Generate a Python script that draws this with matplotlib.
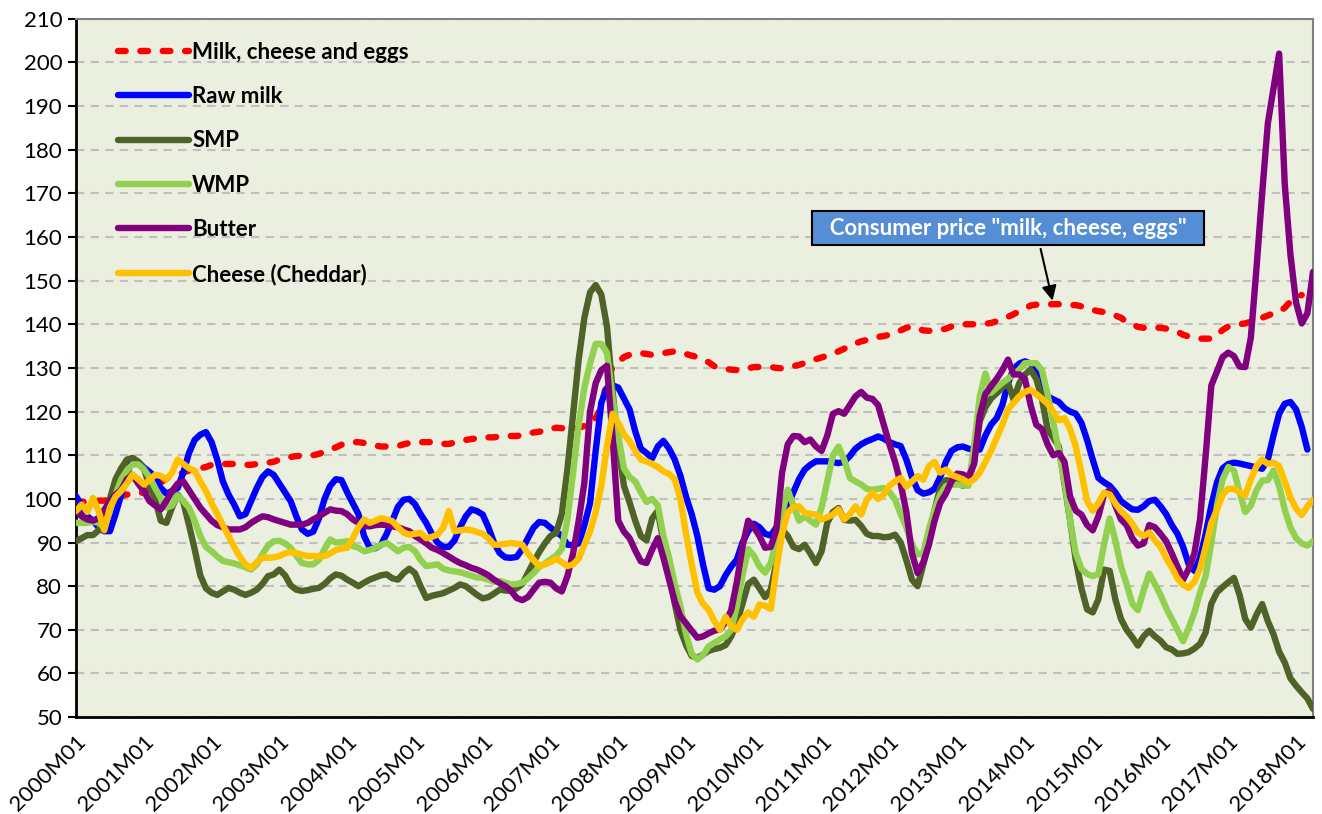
import numpy as np
import matplotlib
matplotlib.use("Agg")
import matplotlib.pyplot as plt
import matplotlib.transforms as mtransforms

nan = np.nan

# monthly index values, 2000M01 .. 2018M04
years = list(range(2000, 2019))

milk_cheese_eggs = [
    99.5, 99.3, 99.4, 99.5, 99.6, 99.6, 99.8, 100.2, 100.6, 101.0, 101.0, 101.2,
    101.5, 102.2, 103.0, 103.8, 104.6, 105.3, 105.6, 106.0, 106.5, 106.8, 107.0, 107.3,
    107.8, 108.0, 108.0, 108.0, 108.0, 107.9, 107.8, 107.8, 108.0, 108.2, 108.3, 108.5,
    109.0, 109.3, 109.6, 109.8, 109.9, 110.0, 110.0, 110.3, 110.8, 111.3, 111.8, 112.4,
    112.8, 113.0, 113.0, 112.8, 112.5, 112.2, 112.0, 112.0, 112.0, 112.1, 112.5, 112.8,
    113.0, 113.0, 113.0, 113.0, 112.8, 112.6, 112.6, 112.9, 113.2, 113.5, 113.7, 113.9,
    114.0, 114.1, 114.1, 114.3, 114.4, 114.4, 114.4, 114.6, 115.0, 115.2, 115.4, 115.5,
    116.0, 116.3, 116.2, 116.0, 116.0, 116.3, 116.7, 117.0, 118.5, 121.0, 127.0, 130.2,
    131.3, 132.5, 133.0, 133.4, 133.4, 133.2, 133.0, 133.2, 133.4, 133.6, 133.8, 133.6,
    133.2, 132.8, 132.5, 132.0, 131.3, 130.4, 130.0, 129.8, 129.6, 129.5, 129.6, 129.9,
    130.2, 130.2, 130.2, 130.2, 130.0, 129.9, 130.1, 130.4, 130.7, 131.1, 131.5, 132.0,
    132.4, 132.8, 133.3, 133.8, 134.4, 135.0, 135.6, 136.1, 136.4, 136.9, 137.1, 137.3,
    137.6, 138.0, 138.6, 139.2, 139.5, 139.0, 138.6, 138.5, 138.6, 138.7, 139.0, 139.5,
    139.9, 140.0, 140.0, 140.0, 140.0, 140.1, 140.3, 140.7, 141.2, 141.7, 142.3, 143.0,
    143.6, 144.3, 144.5, 144.6, 144.6, 144.6, 144.6, 144.5, 144.4, 144.4, 144.1, 143.7,
    143.3, 143.0, 142.8, 142.5, 142.0, 141.5, 140.5, 140.0, 139.4, 139.2, 139.2, 139.2,
    139.2, 139.0, 138.7, 138.3, 137.6, 137.2, 137.0, 136.7, 136.7, 136.7, 137.5, 138.7,
    139.5, 139.8, 140.0, 140.2, 140.6, 141.0, 141.5, 142.0, 142.5, 142.8, 143.8, 145.2,
    146.2, 146.7, nan, nan,
]

raw_milk = [
    100.6, 98.5, 96.0, 95.0, 93.5, 92.6, 92.6, 96.5, 101.0, 105.5, 109.3, 108.5,
    107.2, 106.2, 105.0, 102.5, 101.2, 101.8, 102.5, 106.0, 110.5, 113.5, 114.7, 115.3,
    113.0, 109.0, 104.0, 101.0, 98.7, 96.0, 96.5, 99.5, 102.5, 105.0, 106.3, 105.5,
    103.5, 101.5, 99.5, 96.0, 93.0, 92.0, 92.5, 95.5, 100.0, 103.0, 104.5, 104.3,
    101.5, 99.0, 96.5, 91.5, 88.8, 88.7, 89.5, 92.0, 95.0, 98.2, 99.8, 100.0,
    98.8, 96.5, 94.5, 92.0, 90.0, 89.0, 89.0, 90.5, 93.5, 96.0, 97.6, 97.2,
    96.4, 93.5, 90.0, 87.6, 86.6, 86.5, 86.7, 88.5, 91.0, 93.4, 94.7, 94.5,
    93.4, 92.5, 91.5, 89.5, 89.4, 89.8, 94.0, 99.0, 111.0, 122.0, 125.4, 126.0,
    125.5, 123.0, 120.5, 115.5, 111.5, 110.5, 109.3, 112.0, 113.3, 111.5, 109.0, 105.3,
    100.5, 96.5, 91.5, 85.0, 79.5, 79.2, 80.0, 82.5, 84.5, 86.1, 90.0, 92.6,
    94.3, 93.5, 92.0, 91.6, 93.5, 96.5, 98.5, 101.5, 104.5, 106.7, 107.8, 108.6,
    108.6, 108.6, 108.4, 108.2, 108.5, 109.8, 111.5, 112.5, 113.2, 113.7, 114.3, 113.8,
    113.0, 112.5, 112.1, 109.0, 105.0, 102.0, 101.2, 101.5, 102.3, 105.0, 108.5, 111.0,
    111.8, 112.0, 111.5, 111.3, 111.3, 114.5, 117.0, 118.5, 121.5, 126.5, 129.8, 131.0,
    131.5, 131.0, 129.5, 127.5, 123.5, 122.8, 122.2, 120.8, 120.0, 119.5, 117.4, 113.5,
    109.0, 104.8, 103.8, 103.0, 101.5, 99.5, 98.5, 97.6, 97.5, 98.3, 99.5, 99.8,
    98.3, 96.5, 94.0, 92.0, 89.0, 85.0, 83.5, 86.5, 92.0, 98.5, 103.8, 107.0,
    108.0, 108.3, 108.1, 107.8, 107.5, 107.2, 106.9, 109.0, 114.5, 119.5, 121.8, 122.2,
    120.5, 116.5, 111.3, nan,
]

smp = [
    90.3, 91.0, 91.7, 91.7, 92.8, 95.5, 100.0, 104.5, 107.0, 109.0, 109.4, 108.5,
    107.0, 103.0, 100.0, 95.0, 94.5, 98.0, 101.0, 99.2, 94.0, 88.5, 82.5, 79.5,
    78.5, 78.0, 78.8, 79.6, 79.2, 78.5, 78.0, 78.5, 79.2, 80.5, 82.3, 82.7,
    83.8, 82.5, 80.2, 79.2, 78.9, 79.1, 79.4, 79.6, 80.5, 81.8, 82.7, 82.4,
    81.5, 80.8, 80.0, 80.8, 81.5, 82.0, 82.5, 82.7, 81.8, 81.5, 83.0, 84.0,
    83.0, 80.0, 77.3, 77.8, 78.1, 78.4, 79.0, 79.6, 80.4, 80.0, 79.0, 78.0,
    77.2, 77.5, 78.3, 79.2, 79.0, 78.9, 79.5, 80.5, 83.0, 85.5, 87.8, 89.8,
    91.5, 92.2, 96.5, 106.8, 119.5, 132.0, 141.5, 147.3, 149.0, 146.8, 139.5, 124.5,
    112.0, 103.0, 99.2, 95.0, 91.5, 90.5, 95.5, 97.3, 90.0, 83.0, 76.0, 70.0,
    66.5, 64.0, 63.6, 64.3, 65.2, 65.6, 65.9, 66.5, 68.5, 71.6, 76.0, 80.5,
    81.5, 79.5, 77.5, 79.2, 85.5, 93.0, 91.5, 89.0, 88.5, 89.5, 87.5, 85.3,
    88.0, 94.5, 97.0, 97.9, 95.2, 95.0, 95.2, 93.8, 92.0, 91.5, 91.5, 91.2,
    91.3, 91.8, 90.0, 86.0, 81.5, 80.0, 85.0, 89.9, 97.5, 102.5, 104.3, 104.1,
    103.8, 103.0, 104.0, 108.5, 117.8, 121.0, 123.0, 124.2, 125.5, 126.6, 122.7, 126.5,
    128.5, 129.6, 127.5, 123.0, 116.0, 114.0, 112.0, 103.5, 95.0, 86.0, 79.5, 74.7,
    74.0, 77.0, 83.8, 83.5, 77.0, 72.5, 70.0, 68.3, 66.4, 68.5, 69.8, 68.5,
    67.5, 66.0, 65.5, 64.5, 64.6, 64.9, 65.7, 66.8, 69.4, 76.0, 78.6, 79.8,
    80.9, 81.9, 78.0, 72.5, 70.5, 73.5, 75.9, 72.0, 69.0, 65.0, 62.5, 58.9,
    57.2, 55.7, 54.3, 51.9,
]

wmp = [
    94.5, 94.5, 94.5, 94.8, 94.5, 93.5, 97.5, 101.0, 104.5, 106.5, 107.9, 107.9,
    106.8, 105.0, 102.5, 100.2, 98.0, 98.5, 100.8, 99.5, 98.0, 95.0, 91.5, 89.0,
    88.0, 86.8, 85.8, 85.5, 85.2, 84.8, 84.3, 83.8, 85.0, 87.3, 89.3, 90.3,
    90.4, 89.8, 88.8, 87.0, 85.3, 85.0, 85.0, 86.0, 88.5, 90.7, 90.0, 90.1,
    90.3, 89.2, 88.8, 88.0, 88.3, 88.8, 89.5, 89.9, 89.0, 88.0, 88.8, 89.0,
    88.0, 86.0, 84.6, 84.8, 85.0, 84.0, 83.6, 83.4, 83.2, 82.8, 82.4, 82.0,
    81.9, 81.5, 81.0, 81.2, 80.8, 80.4, 80.5, 80.8, 81.8, 83.0, 84.4, 85.2,
    86.1, 87.0, 88.5, 95.3, 106.0, 117.0, 125.5, 131.0, 135.5, 135.5, 133.5, 123.0,
    114.5, 107.0, 105.0, 104.0, 101.5, 99.3, 100.0, 98.5, 91.5, 86.5, 80.5, 75.4,
    69.0, 64.5, 63.2, 64.2, 66.2, 67.0, 67.8, 68.5, 70.0, 75.4, 82.5, 88.5,
    87.0, 84.5, 83.1, 85.3, 90.5, 96.5, 102.1, 98.5, 95.0, 96.0, 95.0, 94.1,
    98.0, 104.0, 110.0, 112.0, 109.0, 104.8, 104.0, 103.3, 102.3, 102.1, 102.3, 102.5,
    101.6, 99.8, 96.5, 93.5, 89.5, 87.3, 87.5, 93.0, 97.5, 101.0, 102.9, 103.2,
    103.3, 103.1, 103.0, 112.1, 123.5, 128.7, 124.3, 125.5, 126.6, 127.5, 128.5, 129.6,
    131.1, 131.1, 131.1, 129.5, 124.0, 117.5, 111.0, 104.0, 95.0, 87.5, 84.0, 82.8,
    82.3, 82.8, 89.5, 95.5, 90.5, 84.5, 80.5, 76.0, 74.5, 79.0, 82.9, 80.5,
    78.0, 75.0, 72.5, 70.0, 67.4, 70.5, 74.0, 78.5, 82.4, 90.0, 98.5, 104.5,
    107.3, 106.5, 101.5, 97.0, 98.5, 102.0, 104.2, 104.3, 106.5, 103.0, 97.5, 93.5,
    91.0, 89.8, 89.3, 90.3,
]

butter = [
    97.2, 96.0, 95.3, 95.0, 95.6, 97.5, 99.5, 101.0, 102.0, 104.5, 105.5, 103.5,
    101.8, 99.5, 98.5, 97.6, 99.5, 101.8, 103.5, 104.0, 102.0, 100.0, 98.0, 96.5,
    95.0, 94.0, 93.5, 93.0, 93.0, 93.0, 93.5, 94.5, 95.3, 96.0, 95.8, 95.3,
    94.9, 94.5, 94.1, 94.1, 94.1, 94.5, 95.3, 96.0, 96.8, 97.6, 97.3, 97.2,
    96.5, 95.3, 94.5, 93.8, 93.7, 94.0, 94.1, 94.0, 93.7, 93.5, 93.0, 92.6,
    91.5, 90.7, 89.8, 88.8, 88.3, 87.6, 86.8, 86.0, 85.3, 84.8, 84.2, 83.8,
    83.2, 82.5, 81.5, 80.7, 80.0, 79.0, 77.3, 76.8, 77.5, 79.2, 80.8, 81.0,
    80.8, 79.5, 78.8, 82.3, 87.5, 95.0, 103.7, 120.0, 126.5, 129.5, 130.5, 114.0,
    95.0, 92.5, 91.0, 88.2, 85.7, 85.3, 88.4, 91.0, 86.5, 81.5, 76.5, 73.1,
    71.5, 69.8, 68.2, 68.5, 69.2, 69.8, 70.1, 71.8, 74.5, 81.0, 89.0, 95.0,
    93.5, 91.5, 88.8, 89.0, 93.0, 106.0, 112.5, 114.4, 114.3, 113.0, 113.6, 112.0,
    111.0, 114.5, 119.5, 120.1, 119.5, 121.5, 123.5, 124.5, 123.2, 122.9, 121.5, 117.0,
    112.5, 108.5, 103.5, 97.0, 87.5, 83.0, 85.5, 89.5, 95.0, 99.1, 101.2, 104.0,
    105.8, 105.6, 105.0, 108.0, 119.0, 124.0, 125.8, 127.5, 129.5, 131.9, 128.5, 128.5,
    127.5, 121.5, 117.0, 116.0, 112.5, 110.0, 110.5, 108.5, 100.5, 97.3, 96.4, 94.0,
    92.8, 96.0, 101.0, 102.0, 98.5, 95.3, 94.0, 91.0, 89.3, 89.8, 94.0, 93.5,
    92.0, 90.3, 87.5, 84.5, 81.5, 84.0, 87.5, 95.3, 110.0, 126.0, 129.2, 132.5,
    133.5, 132.7, 130.3, 130.2, 137.0, 153.0, 170.0, 186.0, 194.0, 202.0, 172.0, 156.0,
    145.0, 140.2, 142.5, 152.0,
]

cheddar = [
    97.2, 98.7, 97.0, 100.2, 97.2, 92.8, 98.0, 100.5, 101.8, 103.5, 105.6, 104.5,
    103.3, 104.3, 105.5, 105.3, 104.4, 106.0, 109.0, 108.0, 107.0, 106.5, 104.0, 101.8,
    99.0, 96.6, 94.0, 91.5, 89.0, 86.8, 85.0, 84.2, 85.5, 86.5, 86.5, 86.6,
    86.9, 87.5, 87.8, 87.6, 87.2, 86.9, 86.9, 86.9, 86.9, 87.5, 88.3, 88.6,
    88.8, 91.0, 93.5, 95.3, 94.5, 95.0, 95.6, 95.3, 94.9, 93.5, 92.3, 91.8,
    92.0, 92.2, 91.0, 91.3, 91.8, 93.4, 97.2, 92.6, 92.8, 93.0, 92.8, 92.4,
    92.0, 91.0, 89.5, 89.5, 89.7, 89.9, 89.7, 89.5, 87.5, 86.0, 84.6, 85.0,
    85.5, 86.3, 85.5, 84.6, 85.0, 86.3, 89.5, 92.5, 97.0, 103.0, 112.0, 119.5,
    117.4, 114.8, 113.2, 111.0, 109.0, 108.6, 108.0, 107.3, 106.3, 105.7, 104.5, 100.0,
    92.0, 85.0, 78.5, 76.0, 74.6, 72.0, 70.0, 73.0, 71.0, 70.0, 72.4, 74.0,
    73.0, 75.8, 75.5, 74.8, 84.0, 92.0, 96.8, 98.2, 98.3, 96.8, 96.6, 96.4,
    95.3, 95.8, 96.4, 97.6, 95.3, 96.5, 98.3, 96.4, 99.8, 101.4, 100.0, 101.0,
    103.0, 104.0, 104.8, 102.8, 104.0, 105.2, 104.4, 107.5, 108.5, 106.0, 106.7, 105.5,
    105.0, 104.5, 103.7, 104.5, 106.0, 108.5, 111.0, 114.0, 117.0, 120.5, 122.0, 123.5,
    124.5, 125.0, 124.0, 123.0, 121.8, 120.0, 118.0, 118.5, 116.0, 112.0, 106.0, 99.5,
    97.3, 99.0, 101.4, 101.0, 99.0, 97.2, 96.0, 94.3, 92.3, 91.5, 92.3, 90.5,
    89.0, 86.5, 84.3, 81.8, 80.3, 79.6, 81.0, 84.0, 89.0, 94.5, 97.5, 101.0,
    102.3, 102.3, 101.5, 100.8, 104.5, 107.5, 109.0, 108.0, 108.3, 107.5, 104.0, 100.3,
    97.8, 96.3, 98.3, 99.8,
]

labels = ["Milk, cheese and eggs", "Raw milk", "SMP", "WMP", "Butter", "Cheese (Cheddar)"]
colors = ["#FF0000", "#0000FF", "#4F6228", "#92D050", "#800080", "#FFC000"]

plt.rcParams["font.family"] = ["Lato", "DejaVu Sans"]

fig = plt.figure(figsize=(13.22, 8.14), dpi=100)
ax = fig.add_axes([0.0575, 0.119, 0.9357, 0.858])
ax.set_facecolor("#EBEFDF")

x = np.arange(len(butter))
series = [milk_cheese_eggs, raw_milk, smp, wmp, butter, cheddar]
for vals, lab, col in zip(series, labels, colors):
    if lab.startswith("Milk"):
        ax.plot(x, vals, color=col, lw=4.6, label=lab, dashes=(1.2, 2.3),
                dash_capstyle="round", zorder=3)
    else:
        ax.plot(x, vals, color=col, lw=4.6, label=lab, solid_capstyle="round",
                solid_joinstyle="round", zorder=3)

ax.set_xlim(0, len(butter) - 1)
ax.set_ylim(50, 210)
ax.set_yticks(range(50, 211, 10))
ax.grid(axis="y", color="#C0C0C0", lw=1.5, dashes=(4, 3))
ax.set_axisbelow(True)

ax.set_xticks(range(0, len(butter), 12))
ax.set_xticklabels([f"{y}M01" for y in years], rotation=45, ha="right",
                   rotation_mode="anchor", fontsize=16)
shift = mtransforms.ScaledTranslation(5 / 72, 0, fig.dpi_scale_trans)
for t in ax.get_xticklabels():
    t.set_transform(t.get_transform() + shift)
ax.tick_params(axis="x", length=0, pad=10)
ax.tick_params(axis="y", length=6, width=1.5, labelsize=16, direction="out", pad=4)

for s in ["left", "bottom"]:
    ax.spines[s].set_linewidth(2)
    ax.spines[s].set_color("black")
for s in ["top", "right"]:
    ax.spines[s].set_linewidth(1.5)
    ax.spines[s].set_color("#808080")

leg = ax.legend(loc="upper left", bbox_to_anchor=(0.0175, 0.9957), frameon=False,
                prop={"weight": "bold", "size": 16}, handlelength=3.2,
                handletextpad=0.15, labelspacing=1.05)

ax.annotate('  Consumer price "milk, cheese, eggs"  ', xy=(173, 144.8), xytext=(165, 162),
            ha="center", va="center", color="white", fontsize=16, fontweight="bold",
            bbox=dict(boxstyle="square,pad=0.3", fc="#558ED5", ec="black", lw=1.5),
            arrowprops=dict(arrowstyle="-|>", color="black", lw=1.5,
                            mutation_scale=22, relpos=(0.58, 0)),
            zorder=5)

fig.savefig("out.png", dpi=100)
